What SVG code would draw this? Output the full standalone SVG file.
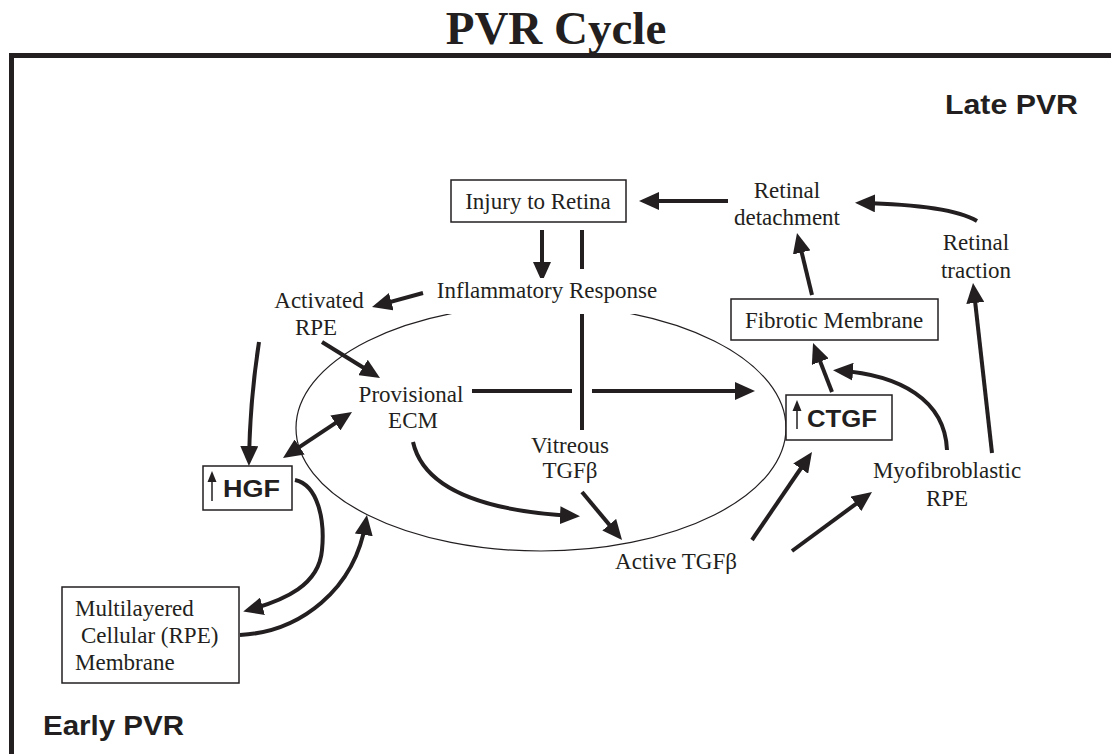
<svg xmlns="http://www.w3.org/2000/svg" width="1111" height="754" viewBox="0 0 1111 754">
<style>
.t{font-family:"Liberation Serif","Times New Roman",serif;font-size:23px;fill:#231f20;text-anchor:middle}
.tl{font-family:"Liberation Serif","Times New Roman",serif;font-size:23px;fill:#231f20}
.b{font-family:"Liberation Sans",Arial,sans-serif;font-weight:bold;fill:#231f20}
.box{fill:#fff;stroke:#231f20;stroke-width:1.5}
.c{fill:none;stroke:#231f20;stroke-width:4}
.a{fill:none;stroke:#231f20;stroke-width:4;marker-end:url(#ah)}
</style>
<defs>
<marker id="ah" markerUnits="userSpaceOnUse" markerWidth="20" markerHeight="18" viewBox="0 0 20 18" refX="14" refY="9" orient="auto-start-reverse">
<path d="M0,0 L20,9 L0,18 z" fill="#231f20"/>
</marker>
</defs>
<rect width="1111" height="754" fill="#fff"/>
<text x="556" y="44" text-anchor="middle" style="font-family:'Liberation Serif','Times New Roman',serif;font-weight:bold;font-size:47px;fill:#231f20">PVR Cycle</text>
<path d="M11.5,754 L11.5,55.5 L1111,55.5" fill="none" stroke="#231f20" stroke-width="5"/>
<text class="b" x="945" y="114" font-size="28" textLength="133" lengthAdjust="spacingAndGlyphs">Late PVR</text>
<text class="b" x="43" y="735" font-size="28" textLength="141" lengthAdjust="spacingAndGlyphs">Early PVR</text>

<g id="cycle">
<ellipse cx="541" cy="428" rx="245" ry="123" fill="none" stroke="#231f20" stroke-width="1.2"/>
</g>

<g id="connectors">
<path class="a" d="M542,230 L542,276"/>
<path class="c" d="M582,230 L582,269"/>
<path class="c" d="M582,310 L582,430"/>
<path class="c" d="M472,391 L572,391"/>
<path class="a" d="M592,391 L749,391"/>
<path class="a" d="M423,293 L377.8,305.4"/>
<path class="a" d="M322,342 L374.9,374.8"/>
<path class="a" d="M288,454.7 L347,415.3" style="marker-start:url(#ah)"/>
<path class="a" d="M259,342 Q250,400 249,460"/>
<path class="a" d="M413,442 C425,495 500,512 574,516"/>
<path class="a" d="M582,492 L618.2,535.4"/>
<path class="a" d="M752,540 L808.6,457"/>
<path class="a" d="M792,551 L867.2,495.6"/>
<path class="a" d="M947,450 C945,400 900,375 839,370.6"/>
<path class="a" d="M832,392 L815.2,348.6"/>
<path class="a" d="M812,295 L798.4,238.8"/>
<path class="a" d="M728,201 L645,201"/>
<path class="a" d="M977,221 Q950,205 861,203"/>
<path class="a" d="M992,453 L973.7,289"/>
<path class="a" d="M295,480 C318,485 325,520 322,550 C319,585 285,600 249,610"/>
<path class="a" d="M240,635 C300,632 355,590 366,521"/>
</g>

<g id="injury">
<rect class="box" x="451" y="180" width="175" height="42"/>
<text class="t" x="538" y="209">Injury to Retina</text>
</g>
<g id="inflammatory">
<rect x="443" y="278" width="195" height="36" fill="#fff"/>
<text class="t" x="547" y="298">Inflammatory Response</text>
</g>
<g id="activated-rpe">
<text class="t" x="319" y="308">Activated</text>
<text class="t" x="316" y="335">RPE</text>
</g>
<g id="provisional-ecm">
<text class="t" x="411" y="402">Provisional</text>
<text class="t" x="413" y="428">ECM</text>
</g>
<g id="vitreous-tgfb">
<text class="t" x="570" y="453">Vitreous</text>
<text class="t" x="570" y="478">TGFβ</text>
</g>
<g id="active-tgfb">
<text class="t" x="676" y="569">Active TGFβ</text>
</g>
<g id="myofibroblastic-rpe">
<text class="t" x="947" y="478">Myofibroblastic</text>
<text class="t" x="947" y="506">RPE</text>
</g>
<g id="fibrotic-membrane">
<rect class="box" x="731" y="299" width="207" height="41"/>
<text class="t" x="834" y="328">Fibrotic Membrane</text>
</g>
<g id="retinal-detachment">
<text class="t" x="787" y="198">Retinal</text>
<text class="t" x="787" y="225">detachment</text>
</g>
<g id="retinal-traction">
<text class="t" x="976" y="250">Retinal</text>
<text class="t" x="976" y="278">traction</text>
</g>
<g id="hgf">
<rect class="box" x="203" y="466" width="89" height="44"/>
<path d="M212,501 L212,481" stroke="#231f20" stroke-width="1.5"/>
<path d="M212,471 L216.5,482 L207.5,482 z" fill="#231f20"/>
<text class="b" x="223" y="497" font-size="24" textLength="57" lengthAdjust="spacingAndGlyphs">HGF</text>
</g>
<g id="ctgf">
<rect class="box" x="786" y="395" width="106" height="45"/>
<path d="M797,429 L797,410" stroke="#231f20" stroke-width="1.5"/>
<path d="M797,400 L801.5,411 L792.5,411 z" fill="#231f20"/>
<text class="b" x="807" y="427" font-size="24" textLength="70" lengthAdjust="spacingAndGlyphs">CTGF</text>
</g>
<g id="multilayered">
<rect class="box" x="62" y="587" width="177" height="96"/>
<text class="tl" x="75" y="616">Multilayered</text>
<text class="tl" x="81" y="643">Cellular (RPE)</text>
<text class="tl" x="75" y="670">Membrane</text>
</g>
</svg>
